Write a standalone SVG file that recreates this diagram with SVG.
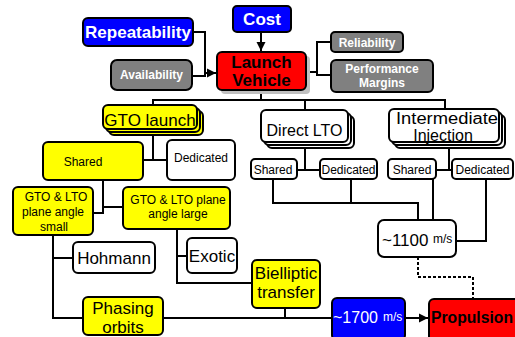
<svg xmlns="http://www.w3.org/2000/svg" width="515" height="337" viewBox="0 0 515 337">
<style>
.bx{stroke:#000;stroke-width:2}
.bl{fill:#0000ff}.rd{fill:#ff0000}.gy{fill:#808080}.yl{fill:#ffff00}.wh{fill:#ffffff}
text{font-family:"Liberation Sans",Arial,sans-serif;text-anchor:middle;fill:#000}
.wb{fill:#fff;font-weight:bold}
.bk{font-weight:bold}
.s12{font-size:12px}.s16{font-size:16px}.s17{font-size:17px}
.ln{fill:none;stroke:#000;stroke-width:2}
</style>
<defs>
<marker id="ah" markerUnits="userSpaceOnUse" markerWidth="10" markerHeight="10" refX="9" refY="5" orient="auto">
<path d="M0,0.5 L9,5 L0,9.5 Z" fill="#000"/>
</marker>
</defs>
<rect width="515" height="337" fill="#fff"/>
<g id="connectors">
<path class="ln" d="M261,32 V51" marker-end="url(#ah)"/>
<path class="ln" d="M193,32 H205 V76 H192"/>
<path class="ln" d="M205,73 H216" marker-end="url(#ah)"/>
<path class="ln" d="M310,72 H317"/>
<path class="ln" d="M331,42 H317 V75 H331"/>
<path class="ln" d="M261,94 V100"/>
<path class="ln" d="M153,105 V100 H445 V108"/>
<path class="ln" d="M305,100 V110"/>
<path class="ln" d="M153,132 V160"/>
<path class="ln" d="M143,160 H167"/>
<path class="ln" d="M305,145 V170"/>
<path class="ln" d="M297,170 H320"/>
<path class="ln" d="M449,145 V170" stroke-width="3"/>
<path class="ln" d="M436,170 H452"/>
<path class="ln" d="M273,179 V203 H418 V220"/>
<path class="ln" d="M351,179 V203"/>
<path class="ln" d="M433,179 V220"/>
<path class="ln" d="M486,179 V241 H456"/>
<path class="ln" d="M418,257 V277 H473 V299" stroke-width="2.5" stroke-dasharray="3,2"/>
<path class="ln" d="M103,180 V213 H93"/>
<path class="ln" d="M103,207 H123"/>
<path class="ln" d="M53,235 V318 H83"/>
<path class="ln" d="M53,258 H73"/>
<path class="ln" d="M177,229 V283 H252"/>
<path class="ln" d="M177,256 H187"/>
<path class="ln" d="M163,318 H332"/>
<path class="ln" d="M285,308 V318"/>
<path class="ln" d="M405,318 H428" marker-end="url(#ah)"/>
</g>
<g id="cost">
<rect class="bx bl" x="233" y="6" width="58" height="26" rx="4"/>
<text class="wb s17" x="262" y="25">Cost</text>
</g>
<g id="launch-vehicle">
<rect x="221" y="56" width="89" height="38" rx="4" fill="#c0c0c0"/>
<rect class="bx rd" x="217" y="52" width="89" height="38" rx="5"/>
<text class="bk s17" x="261.5" y="68">Launch</text>
<text class="bk s17" x="261.5" y="86">Vehicle</text>
</g>
<g id="repeatability">
<rect class="bx bl" x="83" y="18" width="110" height="28" rx="5"/>
<text class="wb s17" x="138" y="38">Repeatability</text>
</g>
<g id="availability">
<rect class="bx gy" x="111" y="60" width="81" height="30" rx="6"/>
<text class="wb s12" x="151.5" y="79">Availability</text>
</g>
<g id="reliability">
<rect class="bx gy" x="331" y="32" width="72" height="20" rx="4"/>
<text class="wb s12" x="367" y="46.5">Reliability</text>
</g>
<g id="performance-margins">
<rect class="bx gy" x="331" y="60" width="102" height="32" rx="5"/>
<text class="wb s12" x="382" y="73">Performance</text>
<text class="wb s12" x="382" y="87">Margins</text>
</g>
<g id="gto-launch">
<rect class="bx yl" x="109" y="111" width="94" height="24" rx="5"/>
<rect class="bx yl" x="106" y="108" width="94" height="24" rx="5"/>
<rect class="bx yl" x="103" y="105" width="94" height="24" rx="5"/>
<text class="s17" x="150" y="126">GTO launch</text>
</g>
<g id="direct-lto">
<rect class="bx wh" x="267" y="116" width="87" height="32" rx="5"/>
<rect class="bx wh" x="264" y="113" width="87" height="32" rx="5"/>
<rect class="bx wh" x="261" y="110" width="87" height="32" rx="5"/>
<text class="s16" x="304.5" y="136">Direct LTO</text>
</g>
<g id="intermediate-injection">
<rect class="bx wh" x="395" y="115" width="110" height="33" rx="5"/>
<rect class="bx wh" x="392" y="112" width="110" height="33" rx="5"/>
<rect class="bx wh" x="389" y="109" width="110" height="33" rx="5"/>
<text class="s16" x="447" y="124" textLength="102" lengthAdjust="spacingAndGlyphs">Intermediate</text>
<text class="s16" x="443" y="141">Injection</text>
</g>
<g id="gto-shared">
<rect class="bx yl" x="43" y="142" width="100" height="38" rx="5"/>
<text class="s12" x="83" y="166">Shared</text>
</g>
<g id="gto-dedicated">
<rect class="bx wh" x="167" y="140" width="68" height="40" rx="5"/>
<text class="s12" x="201" y="162">Dedicated</text>
</g>
<g id="direct-shared">
<rect class="bx wh" x="251" y="159" width="46" height="20" rx="4"/>
<text class="s12" x="273" y="173.5">Shared</text>
</g>
<g id="direct-dedicated">
<rect class="bx wh" x="320" y="159" width="57" height="20" rx="4"/>
<text class="s12" x="348.5" y="173.5">Dedicated</text>
</g>
<g id="int-shared">
<rect class="bx wh" x="388" y="159" width="48" height="20" rx="4"/>
<text class="s12" x="412" y="173.5">Shared</text>
</g>
<g id="int-dedicated">
<rect class="bx wh" x="452" y="159" width="61" height="20" rx="4"/>
<text class="s12" x="482.5" y="173.5">Dedicated</text>
</g>
<g id="dv-1100">
<rect class="bx wh" x="378" y="220" width="78" height="37" rx="6"/>
<text class="s17" x="382" y="246" style="text-anchor:start">~1100</text>
<text class="s12" x="433" y="243" style="text-anchor:start">m/s</text>
</g>
<g id="plane-angle-small">
<rect class="bx yl" x="13" y="187" width="80" height="48" rx="5"/>
<text class="s12" x="56" y="201">GTO &amp; LTO</text>
<text class="s12" x="53" y="216">plane angle</text>
<text class="s12" x="54" y="231">small</text>
</g>
<g id="plane-angle-large">
<rect class="bx yl" x="123" y="187" width="107" height="42" rx="5"/>
<text class="s12" x="178" y="204">GTO &amp; LTO plane</text>
<text class="s12" x="178" y="218">angle large</text>
</g>
<g id="hohmann">
<rect class="bx wh" x="73" y="242" width="82" height="31" rx="5"/>
<text class="s17" x="114" y="264">Hohmann</text>
</g>
<g id="exotic">
<rect class="bx wh" x="187" y="238" width="50" height="35" rx="5"/>
<text class="s17" x="212" y="262">Exotic</text>
</g>
<g id="bielliptic">
<rect class="bx yl" x="252" y="260" width="68" height="48" rx="5"/>
<text class="s17" x="286" y="279">Bielliptic</text>
<text class="s17" x="286" y="298">transfer</text>
</g>
<g id="phasing-orbits">
<rect class="bx yl" x="83" y="297" width="80" height="38" rx="5"/>
<text class="s17" x="123" y="314">Phasing</text>
<text class="s17" x="123" y="333">orbits</text>
</g>
<g id="dv-1700">
<rect class="bx bl" x="332" y="298" width="73" height="42" rx="5"/>
<text class="s16" x="333" y="323" style="text-anchor:start;fill:#fff">~1700</text>
<text class="s12" x="383" y="321" style="text-anchor:start;fill:#fff">m/s</text>
</g>
<g id="propulsion">
<rect class="bx rd" x="429" y="299" width="92" height="42" rx="5"/>
<text class="bk" x="431" y="323" style="text-anchor:start;font-size:16px" textLength="82" lengthAdjust="spacingAndGlyphs">Propulsion</text>
</g>
</svg>
